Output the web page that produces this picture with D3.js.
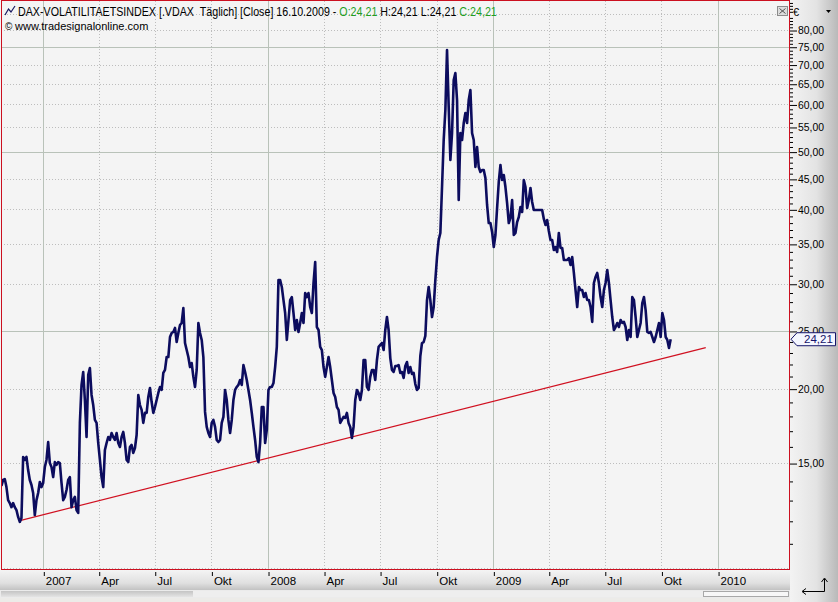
<!DOCTYPE html>
<html><head><meta charset="utf-8">
<script src="https://cdn.jsdelivr.net/npm/d3@7"></script>
<style>
html,body{margin:0;padding:0;background:#ecebe8;overflow:hidden;}
svg{display:block;font-family:"Liberation Sans",Arial,sans-serif;}
</style></head><body>
<svg id="chart" width="838" height="602"></svg>
<script>
// ---------- data ----------
const firstDate = "2006-10-25";
const lastDate = "2009-10-16";
const vdaxClose = [
13.73,14.05,14.10,13.67,13.00,12.85,12.65,12.85,12.65,12.51,
12.18,11.95,12.13,15.36,15.18,15.36,14.60,14.05,13.78,13.36,
12.27,13.00,13.36,13.94,13.67,13.89,14.77,15.18,16.27,15.00,
14.77,14.21,15.06,14.89,15.06,15.00,13.89,13.00,13.16,13.52,
14.05,14.21,12.65,13.00,13.16,12.51,12.37,17.52,20.29,21.33,
19.14,16.59,21.09,21.66,19.52,18.77,17.72,17.52,16.21,15.18,
14.21,13.67,15.78,16.21,16.59,16.40,16.85,16.59,16.40,16.85,
16.21,15.96,16.59,16.92,16.21,15.18,15.06,15.96,16.09,15.60,
15.90,16.72,19.52,18.77,18.42,17.52,18.21,18.21,19.37,20.05,
18.99,18.21,18.63,19.14,19.67,20.13,19.90,21.25,21.50,22.60,
22.60,24.42,24.80,24.90,25.29,23.95,24.80,25.58,25.78,27.31,
23.86,23.22,22.60,21.74,22.08,20.93,20.13,21.50,25.78,24.80,
24.14,22.60,18.28,17.25,16.85,16.59,17.52,17.72,17.25,16.40,
16.27,16.40,17.52,17.93,19.90,19.14,17.72,16.85,17.72,19.14,
19.90,20.13,20.29,20.68,20.29,21.91,21.33,20.68,19.90,19.14,
18.21,17.25,16.40,15.36,15.06,16.21,18.63,18.63,16.21,17.05,
19.90,20.13,20.13,20.44,21.74,23.50,30.44,30.44,29.63,28.17,
26.79,24.14,26.08,28.17,28.50,26.79,25.09,26.08,24.90,25.78,
26.79,25.78,28.94,28.50,28.94,27.42,26.79,30.09,32.63,25.38,
25.09,23.50,23.22,21.74,20.93,21.74,22.60,21.74,20.68,19.67,
19.37,18.63,18.42,17.52,17.72,17.93,17.86,18.21,17.52,17.25,
16.53,17.25,19.14,19.90,19.67,19.14,19.90,22.34,22.34,20.13,
19.90,20.93,21.50,21.50,20.68,22.34,23.50,23.68,23.86,23.22,
25.09,26.38,25.09,22.51,21.50,21.33,21.83,21.83,21.91,21.25,
21.33,20.85,21.83,22.17,21.25,21.74,21.17,21.25,20.36,19.90,
20.05,22.69,23.86,23.95,24.52,28.17,29.63,28.17,26.38,27.42,
30.44,33.27,35.53,36.51,43.60,52.29,58.72,74.05,59.40,48.40,
53.72,65.94,67.75,61.03,41.47,53.72,52.29,55.84,58.04,55.84,
61.03,63.44,53.72,52.29,47.11,50.89,47.11,46.21,46.57,46.57,
45.15,40.68,37.94,37.94,36.65,34.58,36.22,40.21,44.46,47.48,
44.80,45.68,43.60,40.99,37.94,38.69,41.47,36.22,36.51,38.08,
38.83,40.36,39.59,44.80,43.60,40.21,41.47,43.44,41.15,39.90,
39.90,39.90,39.90,39.90,39.90,38.54,37.65,38.38,36.79,35.53,
35.53,34.18,34.58,33.92,36.51,34.45,34.45,32.88,32.88,32.88,
33.14,32.25,33.27,31.28,29.28,27.42,29.63,29.28,29.28,28.50,
28.94,28.17,28.17,27.42,25.88,30.09,30.80,31.28,30.09,28.50,
27.42,29.28,30.09,31.64,30.09,28.17,26.38,25.09,25.38,25.78,
25.38,26.08,25.78,25.88,25.38,24.14,25.09,24.42,28.50,28.17,
26.38,24.42,25.09,25.78,27.85,28.50,27.10,24.90,24.80,24.90,
24.42,23.95,24.42,25.09,25.78,24.42,26.79,26.08,24.42,24.14,
23.41,24.21
];
const trendDates = ["2006-11-24", "2009-12-12"];
const trendValues = [12.01, 23.43];
const xTickDates = ["2007-01-01","2007-04-01","2007-07-01","2007-10-01",
  "2008-01-01","2008-04-01","2008-07-01","2008-10-01",
  "2009-01-01","2009-04-01","2009-07-01","2009-10-01","2010-01-01"];
const xTickLabels = ["2007","Apr","Jul","Okt","2008","Apr","Jul","Okt","2009","Apr","Jul","Okt","2010"];
const yLabelTicks = [15,20,25,30,35,40,45,50,55,60,65,70,75,80];
const ySolidGrid = [25,50,75];
const lastClose = 24.21;
const headerParts = [
  {text:"DAX-VOLATILITAETSINDEX [.VDAX  Täglich] [Close] 16.10.2009 - ", color:"#000000"},
  {text:"O:24,21", color:"#1f9f1f"},
  {text:" H:24,21 L:24,21 ", color:"#000000"},
  {text:"C:24,21", color:"#1f9f1f"}
];
const copyrightText = "www.tradesignalonline.com";

// ---------- layout ----------
const W = 838, H = 602;
const P = {left:1, top:1, right:789, bottom:569};
const parse = d3.timeParse("%Y-%m-%d");
const svg = d3.select("#chart");

const x = d3.scaleTime()
  .domain([new Date(2006,9,24,7), new Date(2010,3,26,5)])
  .range([P.left, P.right]);
const y = d3.scaleLog().domain([9.96, 89.5]).range([P.bottom, P.top]);

const t0 = parse(firstDate).getTime(), t1 = parse(lastDate).getTime();
const n = vdaxClose.length;
const series = vdaxClose.map((v,i) => ({date:new Date(t0 + (t1-t0)*i/(n-1)), value:v}));

const loc = d3.formatLocale({decimal:",", thousands:".", grouping:[3], currency:["","€"]});
const fmt2 = loc.format(".2f");

const defs = svg.append("defs");
const gRight = defs.append("linearGradient").attr("id","gRight").attr("x1",0).attr("x2",1).attr("y1",0).attr("y2",0);
gRight.append("stop").attr("offset","0").attr("stop-color","#f3f3f3");
gRight.append("stop").attr("offset","0.55").attr("stop-color","#e3e3e3");
gRight.append("stop").attr("offset","1").attr("stop-color","#b9b9b9");
const gBottom = defs.append("linearGradient").attr("id","gBottom").attr("x1",0).attr("x2",0).attr("y1",0).attr("y2",1);
gBottom.append("stop").attr("offset","0").attr("stop-color","#f4f4f4");
gBottom.append("stop").attr("offset","0.65").attr("stop-color","#e0e0e0");
gBottom.append("stop").attr("offset","1").attr("stop-color","#c2c2c2");
const gScroll = defs.append("linearGradient").attr("id","gScroll").attr("x1",0).attr("x2",0).attr("y1",0).attr("y2",1);
gScroll.append("stop").attr("offset","0").attr("stop-color","#c4c4c4");
gScroll.append("stop").attr("offset","1").attr("stop-color","#e4e4e4");
defs.append("clipPath").attr("id","plotClip").append("rect")
  .attr("x",P.left).attr("y",P.top).attr("width",P.right-P.left).attr("height",P.bottom-P.top);

// background
svg.append("rect").attr("width",W).attr("height",H).attr("fill","#ecebe8");
svg.append("rect").attr("x",0).attr("y",0).attr("width",790).attr("height",570).attr("fill","#f4f4f4");

// grid
const grid = svg.append("g");
const yearTicks = xTickDates.map(parse).filter(d => d.getMonth()===0);
const quarterTicks = xTickDates.map(parse).filter(d => d.getMonth()!==0);
grid.selectAll(".vq").data(quarterTicks).join("line")
  .attr("x1",d=>Math.round(x(d))+0.5).attr("x2",d=>Math.round(x(d))+0.5)
  .attr("y1",P.top).attr("y2",P.bottom)
  .attr("stroke","#bdbdbd").attr("stroke-dasharray","1,2");
const yDotted = d3.range(10, 90, 5).filter(v => !ySolidGrid.includes(v));
grid.selectAll(".hd").data(yDotted).join("line")
  .attr("x1",P.left).attr("x2",P.right)
  .attr("y1",d=>Math.round(y(d))+0.5).attr("y2",d=>Math.round(y(d))+0.5)
  .attr("stroke","#bdbdbd").attr("stroke-dasharray","1,2");
grid.selectAll(".vy").data(yearTicks).join("line")
  .attr("x1",d=>Math.round(x(d))+0.5).attr("x2",d=>Math.round(x(d))+0.5)
  .attr("y1",P.top).attr("y2",P.bottom)
  .attr("stroke","#b9c2b9");
grid.selectAll(".hs").data(ySolidGrid).join("line")
  .attr("x1",P.left).attr("x2",P.right)
  .attr("y1",d=>Math.round(y(d))+0.5).attr("y2",d=>Math.round(y(d))+0.5)
  .attr("stroke","#b9c2b9");

// trend line
const trend = trendDates.map((d,i)=>({date:parse(d), value:trendValues[i]}));
svg.append("path").datum(trend)
  .attr("d", d3.line().x(d=>x(d.date)).y(d=>y(d.value)))
  .attr("stroke","#d01020").attr("stroke-width",1.2).attr("fill","none");

// series
svg.append("path").datum(series)
  .attr("clip-path","url(#plotClip)")
  .attr("d", d3.line().x(d=>x(d.date)).y(d=>y(d.value)))
  .attr("fill","none").attr("stroke","#0c0c5e").attr("stroke-width",2.6)
  .attr("stroke-linejoin","round");

// header
svg.append("path").attr("d","M5,15 L8.5,9 L11,12 L15,6")
  .attr("fill","none").attr("stroke","#1a1a60").attr("stroke-width",1.2);
const ht = svg.append("text").attr("font-size",12).style("white-space","pre");
headerParts.forEach(p => ht.append("tspan").attr("fill",p.color).text(p.text));
const natural = ht.node().getComputedTextLength();
ht.attr("transform",`translate(18,16) scale(${479/natural},1)`);
svg.append("text").attr("x",5).attr("y",30).attr("font-size",10).text("©");
svg.append("text").attr("x",15).attr("y",30).attr("font-size",11).text(copyrightText);

// close button
svg.append("rect").attr("x",777.5).attr("y",6.5).attr("width",10).attr("height",9)
  .attr("fill","#dcdcdc").attr("stroke","#8c8c8c");
svg.append("path").attr("d","M779.5,8.5 L785.5,13.5 M785.5,8.5 L779.5,13.5")
  .attr("stroke","#505050").attr("stroke-width",1);

// plot border
svg.append("rect").attr("x",1.5).attr("y",0.5).attr("width",788).attr("height",569)
  .attr("fill","none").attr("stroke","#cc1020");

// right axis strip
svg.append("rect").attr("x",790).attr("y",0).attr("width",48).attr("height",570).attr("fill","url(#gRight)");
svg.append("text").attr("x",793).attr("y",16).attr("font-size",11).text("€");
svg.append("path").attr("d","M826,10 L831,10 L828.5,13 Z").attr("fill","#000");

const minorTicks = d3.range(10, 90, 1).filter(v => v % 5 !== 0);
const yMinor = svg.append("g").attr("transform","translate(790,0)")
  .call(d3.axisRight(y).tickValues(minorTicks).tickSize(3).tickFormat(""));
yMinor.select(".domain").remove();
yMinor.selectAll("line").attr("stroke","#000").attr("transform","translate(0,0.5)");
const yMajor = svg.append("g").attr("transform","translate(790,0)")
  .call(d3.axisRight(y).tickValues(yLabelTicks).tickSize(7).tickPadding(1).tickFormat(fmt2));
yMajor.select(".domain").remove();
yMajor.selectAll("line").attr("stroke","#000").attr("transform","translate(0,0.5)");
yMajor.selectAll("text").attr("font-size",11.5).attr("font-family","'Liberation Sans',Arial,sans-serif")
  .attr("fill","#000").attr("textLength",26).attr("lengthAdjust","spacingAndGlyphs");

// bottom axis strip
svg.append("rect").attr("x",0).attr("y",570).attr("width",790).attr("height",20).attr("fill","url(#gBottom)");
const xAxis = svg.append("g").attr("transform","translate(0,572)")
  .call(d3.axisBottom(x).tickValues(xTickDates.map(parse)).tickSize(4).tickPadding(1)
    .tickFormat((d,i)=>xTickLabels[i]));
xAxis.select(".domain").remove();
xAxis.selectAll("line").attr("stroke","#000").attr("transform","translate(0.5,0)");
xAxis.selectAll("text").attr("text-anchor","start").attr("dx",2)
  .attr("font-size",11.5).attr("font-family","'Liberation Sans',Arial,sans-serif").attr("fill","#000");

// scrollbar
svg.append("rect").attr("x",0).attr("y",590).attr("width",790).attr("height",8).attr("fill","#ebebeb");
svg.append("rect").attr("x",1).attr("y",591).attr("width",192).attr("height",6).attr("fill","url(#gScroll)");
svg.append("rect").attr("x",193).attr("y",591).attr("width",510).attr("height",6).attr("fill","#eeeeee");
svg.append("rect").attr("x",703.5).attr("y",591.5).attr("width",85).attr("height",5)
  .attr("fill","#f7f7f7").attr("stroke","#a8a8a8");

// corner box
svg.append("rect").attr("x",790).attr("y",570).attr("width",48).attr("height",32).attr("fill","url(#gRight)");
svg.append("path").attr("d","M824.5,579 L824.5,591.5 L803,591.5")
  .attr("fill","none").attr("stroke","#000");
svg.append("path").attr("d","M821.5,582 L824.5,578 L827.5,582 M806,588.5 L802,591.5 L806,594.5")
  .attr("fill","none").attr("stroke","#000");

// last price tag
const ty = y(lastClose);
svg.append("path")
  .attr("d",`M791,${ty} L797,${ty-6.5} L835.5,${ty-6.5} L835.5,${ty+6.5} L797,${ty+6.5} Z`)
  .attr("fill","#f4f6ff").attr("stroke","#14146a");
svg.append("text").attr("x",804).attr("y",ty+4).attr("font-size",11.5).attr("fill","#14146a")
  .text(fmt2(lastClose));
</script>
</body></html>
